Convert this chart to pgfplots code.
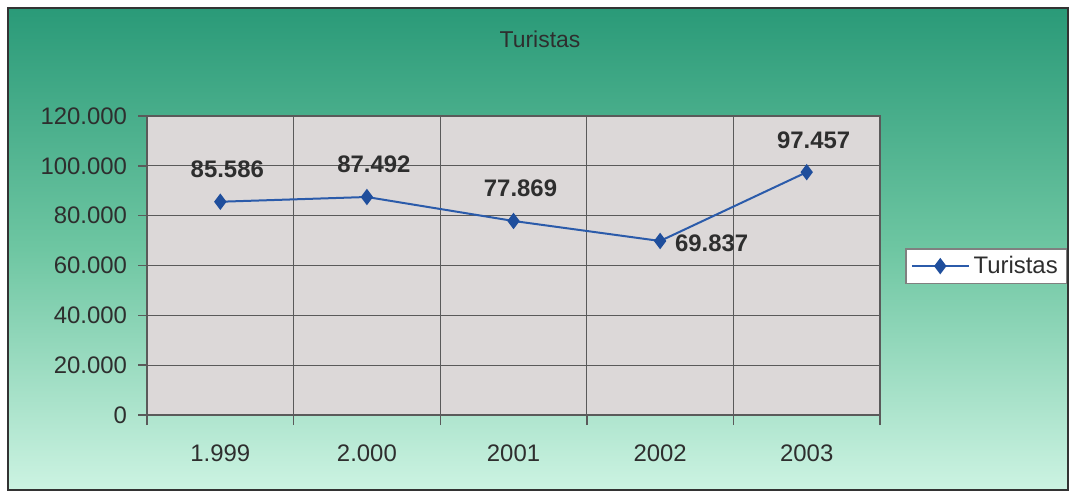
\documentclass[border=0pt]{standalone}
\usepackage{pgfplots}
\pgfplotsset{compat=1.18}
\usepackage{fontspec}
\setmainfont{Liberation Sans}
\definecolor{gtop}{HTML}{2A9A78}
\definecolor{gmid}{HTML}{6EC6A2}
\definecolor{gbot}{HTML}{CCF3E2}
\definecolor{framec}{HTML}{333333}
\definecolor{plotbg}{HTML}{DCD8D8}
\definecolor{gridc}{HTML}{5A5A5A}
\definecolor{labc}{HTML}{2E2E2E}
\definecolor{linec}{HTML}{2B5BAA}
\definecolor{markc}{HTML}{1F4E9C}
\begin{document}
\begin{tikzpicture}[x=1bp,y=1bp]
\useasboundingbox (0,0) rectangle (537.5,246.5);
\shade[top color=gtop, bottom color=gbot, middle color=gmid] (4,1.5) rectangle (534,242.5);
\draw[line width=1bp, color=framec] (4,1.5) rectangle (534,242.5);
\node[font=\fontsize{11.5}{13}\selectfont, text=labc] at (270,227) {Turistas};
\begin{axis}[
  at={(73.5bp,39bp)}, anchor=south west,
  scale only axis, width=366.5bp, height=149.5bp,
  xmin=-0.5, xmax=4.5, ymin=0, ymax=120000,
  scaled y ticks=false,
  axis background/.style={fill=plotbg},
  axis line style={draw=gridc, line width=0.7bp},
  xtick={0,1,2,3,4},
  xticklabels={1.999,2.000,2001,2002,2003},
  minor xtick={-0.5,0.5,1.5,2.5,3.5,4.5},
  ytick={0,20000,40000,60000,80000,100000,120000},
  yticklabels={0,20.000,40.000,60.000,80.000,100.000,120.000},
  ymajorgrids, xminorgrids,
  major grid style={draw=gridc, line width=0.6bp},
  minor grid style={draw=gridc, line width=0.6bp},
  tick align=outside,
  major tick length=4.5bp, minor tick length=5bp,
  major x tick style={draw=none},
  minor x tick style={draw=gridc, line width=0.7bp},
  ytick style={draw=gridc, line width=0.7bp},
  xtick pos=bottom, ytick pos=left,
  /pgf/number format/assume math mode=true,
  ticklabel style={font=\fontsize{12}{14}\selectfont, text=labc},
  yticklabel style={xshift=-2bp},
  xticklabel style={yshift=-7bp},
  legend style={at={(1.145,0.498)}, anchor=center, fill=white, draw=gray,
    font=\fontsize{12}{14}\selectfont, text=labc, inner xsep=2.5bp, inner ysep=1.5bp,
    line width=0.6bp},
  legend image code/.code={\draw[mark repeat=2,mark phase=2,#1] plot coordinates {(0cm,0cm) (0.5cm,0cm) (1cm,0cm)};},
  clip=false,
]
\addplot[color=linec, line width=1bp, mark=diamond*, mark size=3.3bp,
  mark options={fill=markc, draw=markc}] coordinates {
  (0,85586) (1,87492) (2,77869) (3,69837) (4,97457)};
\addlegendentry{Turistas}
\addplot[draw=none, mark=none, forget plot,
  nodes near coords, point meta=explicit symbolic,
  every node near coord/.append style={font=\fontsize{12}{14}\bfseries, text=labc, anchor=base, xshift=3.5bp, yshift=12bp}]
  coordinates {(0,85586) [85.586] (1,87492) [87.492] (2,77869) [77.869] (4,97457) [97.457]};
\addplot[draw=none, mark=none, forget plot,
  nodes near coords, point meta=explicit symbolic,
  every node near coord/.append style={font=\fontsize{12}{14}\bfseries, text=labc, anchor=west, xshift=4bp, yshift=-1bp}]
  coordinates {(3,69837) [69.837]};
\end{axis}
\end{tikzpicture}
\end{document}
